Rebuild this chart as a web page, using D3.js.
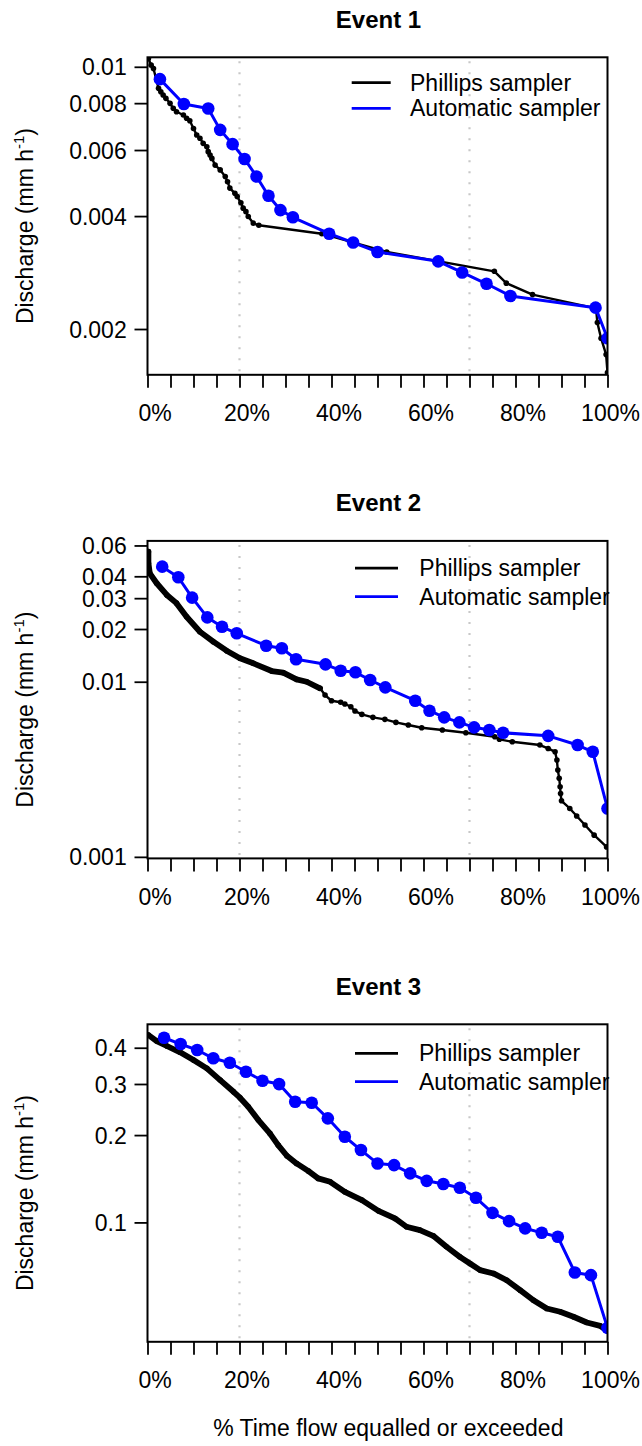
<!DOCTYPE html>
<html>
<head>
<meta charset="utf-8">
<script src="https://cdn.jsdelivr.net/npm/d3@7"></script>
<style>
  html, body { margin: 0; padding: 0; background: #fff; }
  svg { display: block; }
  text { font-family: "Liberation Sans", Arial, Helvetica, sans-serif; fill: #000; }
</style>
</head>
<body>
<svg id="chart" width="642" height="1446"></svg>
<script>
// ---------------- data ----------------
const titles = ["Event 1", "Event 2", "Event 3"];
const seriesNames = ["Phillips sampler", "Automatic sampler"];
const xLabel = "% Time flow equalled or exceeded";
const xTickValues = [0,5,10,15,20,25,30,35,40,45,50,55,60,65,70,75,80,85,90,95,100];
const xLabelValues = [0, 20, 40, 60, 80, 100];
const refLines = [20, 70];

// Event 1
const phillips1 = [
  [0.2,0.01052],[0.8,0.0101],[1.3,0.0099],[2.4,0.00876],[2.9,0.00858],[3.4,0.00841],[4.0,0.00824],
  [4.9,0.00799],[5.6,0.00775],[6.3,0.00759],[7.8,0.00744],[8.5,0.00729],[9.2,0.00718],[10.0,0.00685],
  [10.7,0.00658],[11.4,0.00645],[12.1,0.00625],[12.9,0.00612],[13.2,0.00594],[13.6,0.00582],[14.0,0.0057],
  [14.7,0.00547],[15.8,0.00531],[16.9,0.0051],[17.4,0.00494],[17.9,0.00475],[19.0,0.0046],[19.5,0.00451],
  [20.3,0.00434],[20.8,0.0042],[21.4,0.00411],[21.9,0.00399],[23.0,0.00383],[24.2,0.00378],[37.9,0.00359],
  [52.0,0.00321],[75.4,0.00285],[78.0,0.00265],[83.7,0.00247],[97.5,0.00227],[97.8,0.00208],[98.6,0.00189],
  [99.7,0.00171],[100,0.00153]
];
const auto1 = [
  [2.7,0.00927],[7.9,0.00796],[13.2,0.00774],[15.8,0.00679],[18.5,0.00622],[21.1,0.00568],[23.7,0.0051],
  [26.3,0.00453],[28.9,0.00415],[31.6,0.00397],[39.5,0.00359],[44.7,0.0034],[50.0,0.00321],[63.2,0.00303],
  [68.4,0.00283],[73.7,0.00264],[78.9,0.00245],[97.4,0.00228],[100,0.00189]
];
const yTicks1 = [0.002, 0.004, 0.006, 0.008, 0.01];
const yTickLabels1 = ["0.002", "0.004", "0.006", "0.008", "0.01"];
const yDomain1 = [0.00151, 0.0106];

// Event 2
const phillips2 = [
  [0.2,0.0553],[0.2,0.0475],[0.5,0.0416],[2.0,0.0365],[4.2,0.0313],[6.3,0.0281],[8.5,0.0235],[11.4,0.0193],
  [14.3,0.01693],[17.2,0.01504],[20.1,0.01361],[23.0,0.01274],[27.0,0.01151],[29.5,0.01126],[32.4,0.01032],
  [34.6,0.0100],[37.5,0.00917],[38.6,0.00839],[40.0,0.00779],[42.0,0.00763],[42.9,0.00746],[44.2,0.0072],
  [45.1,0.0068],[46.6,0.00651],[49.0,0.00626],[51.6,0.0061],[54.0,0.00586],[56.7,0.00566],[59.6,0.00546],
  [64.1,0.0053],[69.2,0.00511],[75.5,0.00485],[76.5,0.00469],[79.3,0.00454],[85.3,0.00435],[87.1,0.00416],
  [88.6,0.00398],[89.0,0.00357],[89.2,0.00313],[89.5,0.00281],[89.7,0.00251],[89.8,0.0023],[90.0,0.00209],
  [91.8,0.00189],[93.3,0.00171],[95.1,0.00152],[97.1,0.00133],[99.8,0.00114]
];
const auto2 = [
  [3.2,0.0454],[6.7,0.0395],[9.7,0.0302],[13.0,0.0233],[16.2,0.0206],[19.4,0.0189],[25.8,0.01606],
  [29.2,0.01552],[32.3,0.01343],[38.7,0.01257],[42.0,0.01156],[45.2,0.01132],[48.4,0.01023],[51.7,0.00929],
  [58.2,0.00779],[61.3,0.00683],[64.5,0.00626],[67.8,0.00586],[71.0,0.00549],[74.3,0.0053],[77.3,0.00511],
  [87.1,0.00491],[93.5,0.00435],[96.8,0.00398],[100,0.00189]
];
const yTicks2 = [0.001, 0.01, 0.02, 0.03, 0.04, 0.06];
const yTickLabels2 = ["0.001", "0.01", "0.02", "0.03", "0.04", "0.06"];
const yDomain2 = [0.00098, 0.0637];

// Event 3
const phillips3 = [
  [0.2,0.4424],[2.0,0.4219],[4.2,0.4055],[7.1,0.3858],[10.0,0.3628],[12.9,0.3396],[15.8,0.3095],[18.7,0.282],
  [20.1,0.269],[21.9,0.2504],[24.1,0.2253],[26.6,0.2027],[28.4,0.1847],[30.3,0.1697],[32.4,0.1597],[35.0,0.1502],
  [37.1,0.1418],[39.7,0.138],[42.9,0.1275],[46.6,0.1194],[50.2,0.1096],[53.8,0.1032],[56.3,0.0966],[59.2,0.0941],
  [62.1,0.0899],[65.0,0.0824],[67.9,0.0761],[70.1,0.0722],[72.3,0.0685],[75.2,0.0667],[78.1,0.0632],[81.0,0.0584],
  [83.9,0.0539],[86.8,0.0505],[89.7,0.0492],[92.6,0.0473],[95.5,0.0452],[98.4,0.044],[99.8,0.0425]
];
const auto3 = [
  [3.6,0.433],[7.2,0.4119],[10.8,0.3928],[14.3,0.3678],[17.9,0.3551],[21.4,0.3306],[25.0,0.3078],[28.6,0.2998],
  [32.1,0.2605],[35.7,0.2585],[39.2,0.2284],[42.9,0.1974],[46.4,0.1776],[50.0,0.1597],[53.6,0.1576],[57.1,0.1476],
  [60.7,0.1391],[64.3,0.1356],[67.9,0.1316],[71.4,0.1216],[75.0,0.1079],[78.6,0.101],[82.1,0.0954],[85.7,0.0921],
  [89.2,0.0892],[92.9,0.0672],[96.4,0.0658],[100,0.0433]
];
const yTicks3 = [0.1, 0.2, 0.3, 0.4];
const yTickLabels3 = ["0.1", "0.2", "0.3", "0.4"];
const yDomain3 = [0.03877, 0.4818];

// ---------------- layout / style ----------------
const panels = [
  { title: titles[0], ph: phillips1, au: auto1, ticks: yTicks1, labels: yTickLabels1, domain: yDomain1, dense: -1,
    leg: { x1: 351.7, x2: 390.7, tx: 410, y: 25.4, dy: 25.6 } },
  { title: titles[1], ph: phillips2, au: auto2, ticks: yTicks2, labels: yTickLabels2, domain: yDomain2, dense: 38,
    leg: { x1: 355, x2: 398, tx: 419.3, y: 27.3, dy: 28.4 } },
  { title: titles[2], ph: phillips3, au: auto3, ticks: yTicks3, labels: yTickLabels3, domain: yDomain3, dense: 101,
    leg: { x1: 355, x2: 398, tx: 419, y: 29, dy: 28.4 } }
];
const L = 147.5, R = 607.5, PH = 317.5;
const tops = [57.3, 540.9, 1024.3];
const FS = 23;
const BLUE = "#0000ff";

const svg = d3.select("#chart");
svg.append("rect").attr("width", 642).attr("height", 1446).attr("fill", "#fff");

panels.forEach((p, i) => {
  const top = tops[i], bottom = top + PH;
  const x = d3.scaleLinear().domain([0, 100]).range([L, R]);
  const y = d3.scaleLog().domain(p.domain).range([bottom, top]);
  const g = svg.append("g");

  const clipId = "clip" + i;
  svg.append("clipPath").attr("id", clipId)
    .append("rect").attr("x", L).attr("y", top).attr("width", R - L).attr("height", PH);

  // reference dotted lines
  g.selectAll("line.ref").data(refLines).join("line")
    .attr("x1", d => x(d)).attr("x2", d => x(d))
    .attr("y1", top + 4).attr("y2", bottom)
    .attr("stroke", "#c8c8c8").attr("stroke-width", 2.2)
    .attr("stroke-dasharray", "2,9");

  const plot = g.append("g").attr("clip-path", `url(#${clipId})`);
  const line = d3.line().x(d => x(d[0])).y(d => y(d[1]));

  // Phillips sampler
  plot.append("path").datum(p.ph).attr("d", line)
    .attr("fill", "none").attr("stroke", "#000").attr("stroke-width", 2.4)
    .attr("stroke-linejoin", "round");
  const denseSeg = p.ph.filter(d => d[0] <= p.dense);
  if (denseSeg.length > 1) {
    plot.append("path").datum(denseSeg).attr("d", line)
      .attr("fill", "none").attr("stroke", "#000").attr("stroke-width", 5.8)
      .attr("stroke-linejoin", "round").attr("stroke-linecap", "round");
  }
  plot.selectAll("circle.ph").data(p.ph).join("circle")
    .attr("cx", d => x(d[0])).attr("cy", d => y(d[1])).attr("r", 2.8).attr("fill", "#000");

  // Automatic sampler
  plot.append("path").datum(p.au).attr("d", line)
    .attr("fill", "none").attr("stroke", BLUE).attr("stroke-width", 3)
    .attr("stroke-linejoin", "round");
  plot.selectAll("circle.au").data(p.au).join("circle")
    .attr("cx", d => x(d[0])).attr("cy", d => y(d[1])).attr("r", 6.3).attr("fill", BLUE);

  // x axis
  const xa = g.append("g").attr("transform", `translate(0,${bottom})`)
    .call(d3.axisBottom(x).tickValues(xTickValues).tickSize(13)
      .tickFormat(d => xLabelValues.includes(d) ? d + "%" : ""));
  xa.select(".domain").remove();
  xa.selectAll(".tick line").attr("stroke", "#000").attr("stroke-width", 1.8);
  xa.selectAll(".tick text").attr("font-size", FS).attr("dy", 0).attr("y", 46.6)
    .attr("x", d => d === 100 ? 2.5 : 7)
    .attr("font-family", '"Liberation Sans", Arial, sans-serif').attr("fill", "#000");

  // y axis
  const ya = g.append("g").attr("transform", `translate(${L},0)`)
    .call(d3.axisLeft(y).tickValues(p.ticks).tickSize(13)
      .tickFormat((d, j) => p.labels[j]));
  ya.select(".domain").remove();
  ya.selectAll(".tick line").attr("stroke", "#000").attr("stroke-width", 1.8);
  ya.selectAll(".tick text").attr("font-size", FS).attr("x", -20.8).attr("dy", "0.35em")
    .attr("font-family", '"Liberation Sans", Arial, sans-serif').attr("fill", "#000");

  // box
  g.append("rect").attr("x", L).attr("y", top).attr("width", R - L).attr("height", PH)
    .attr("fill", "none").attr("stroke", "#000").attr("stroke-width", 2);

  // title
  g.append("text").attr("x", (L + R) / 2 + 1).attr("y", top - 29.5)
    .attr("text-anchor", "middle").attr("font-weight", "bold").attr("font-size", 24)
    .text(p.title);

  // y label
  const yl = g.append("text")
    .attr("transform", `translate(33,${(top + bottom) / 2 + 10}) rotate(-90)`)
    .attr("text-anchor", "middle").attr("font-size", FS);
  yl.append("tspan").text("Discharge (mm h");
  yl.append("tspan").attr("font-size", 15).attr("dy", -9).text("-1");
  yl.append("tspan").attr("dy", 9).text(")");

  // legend
  const lg = g.append("g");
  [["#000", seriesNames[0]], [BLUE, seriesNames[1]]].forEach((s, k) => {
    const ly = top + p.leg.y + k * p.leg.dy;
    lg.append("line").attr("x1", p.leg.x1).attr("x2", p.leg.x2).attr("y1", ly).attr("y2", ly)
      .attr("stroke", s[0]).attr("stroke-width", 2.7);
    lg.append("text").attr("x", p.leg.tx).attr("y", ly + 8).attr("font-size", FS).text(s[1]);
  });
});

// x label
svg.append("text").attr("x", 388.3).attr("y", tops[2] + PH + 94)
  .attr("text-anchor", "middle").attr("font-size", FS).text(xLabel);
</script>
</body>
</html>
